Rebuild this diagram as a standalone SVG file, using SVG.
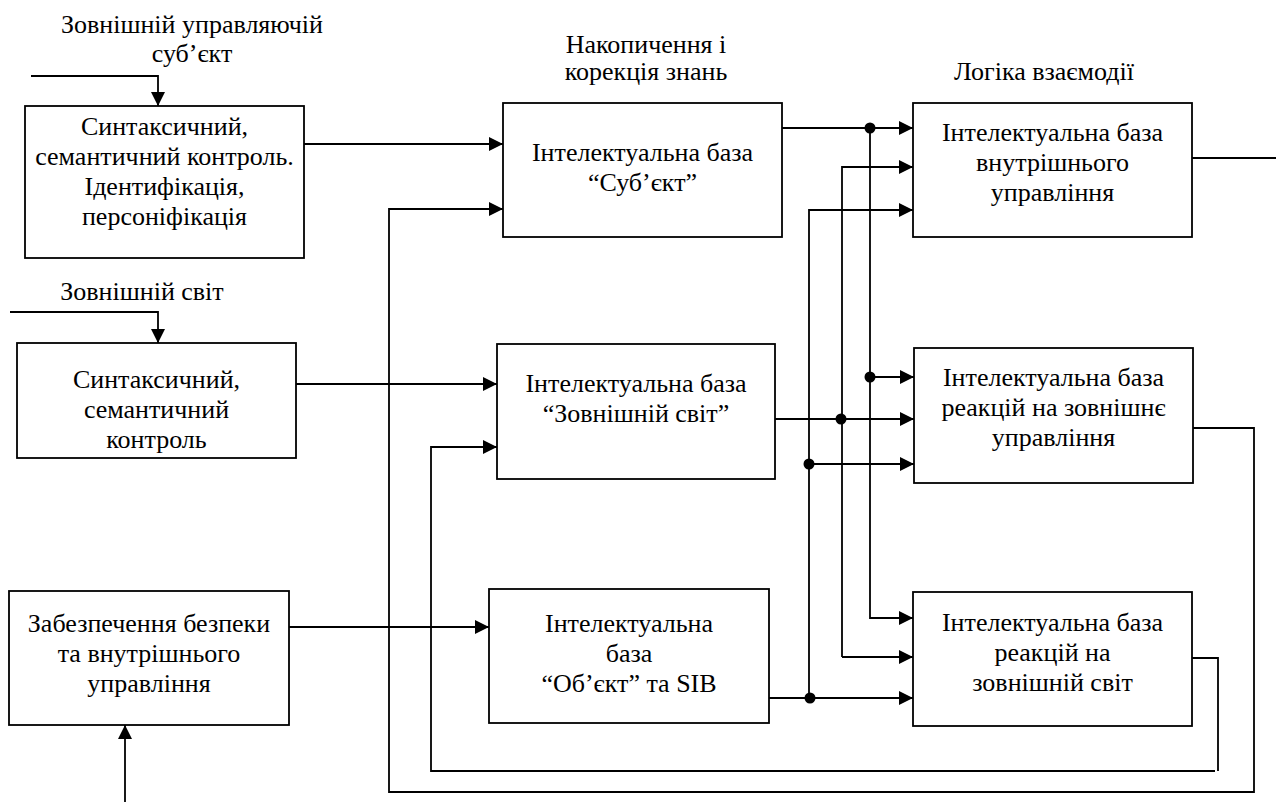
<svg xmlns="http://www.w3.org/2000/svg" width="1281" height="803" viewBox="0 0 1281 803">
<style>
.box{fill:#fff;stroke:#000;stroke-width:1.8}
.ln{fill:none;stroke:#000;stroke-width:1.8}
.ar{marker-end:url(#arr)}
</style>
<defs>
<marker id="arr" markerUnits="userSpaceOnUse" markerWidth="14" markerHeight="14" refX="14" refY="7" orient="auto">
<path d="M0,0 L14,7 L0,14 z" fill="#000"/>
</marker>
</defs>
<rect width="1281" height="803" fill="#fff"/>
<g font-family="Liberation Serif, DejaVu Serif, serif" font-size="26" text-anchor="middle" fill="#000">
<g id="labels">
<text x="192" y="33">Зовнішній управляючій</text>
<text x="192" y="62">суб’єкт</text>
<text x="142" y="300">Зовнішній світ</text>
<text x="646" y="53">Накопичення і</text>
<text x="646" y="80">корекція знань</text>
<text x="1044" y="80">Логіка взаємодії</text>
</g>
</g>
<g id="connectors">
<polyline class="ln ar" points="31,76 158,76 158,106"/>
<polyline class="ln ar" points="304,144 503,144"/>
<polyline class="ln ar" points="1193,428 1254,428 1254,792 389,792 389,209 503,209"/>
<polyline class="ln ar" points="10,312 158,312 158,343"/>
<polyline class="ln ar" points="296,384 497,384"/>
<polyline class="ln" points="1192,658 1218,658 1218,771"/>
<polyline class="ln ar" points="1215,771 431,771 431,447 497,447"/>
<polyline class="ln ar" points="125,802 125,725"/>
<polyline class="ln ar" points="289,627 489,627"/>
<polyline class="ln ar" points="782,128 913,128"/>
<polyline class="ln ar" points="870,128 870,618 913,618"/>
<polyline class="ln ar" points="870,377 914,377"/>
<polyline class="ln ar" points="775,419 914,419"/>
<polyline class="ln ar" points="842,657 842,167 913,167"/>
<polyline class="ln ar" points="842,657 913,657"/>
<polyline class="ln ar" points="769,698 913,698"/>
<polyline class="ln ar" points="809,698 809,210 913,210"/>
<polyline class="ln ar" points="809,464 914,464"/>
<polyline class="ln" points="1192,158 1276,158"/>
<circle cx="870" cy="128" r="5.5"/>
<circle cx="870" cy="377" r="5.5"/>
<circle cx="841" cy="419" r="5.5"/>
<circle cx="809" cy="464" r="5.5"/>
<circle cx="810" cy="698" r="5.5"/>
</g>
<g font-family="Liberation Serif, DejaVu Serif, serif" font-size="26" text-anchor="middle" fill="#000">
<g id="boxA">
<rect class="box" x="25" y="106" width="279" height="152"/>
<text x="164.5" y="135">Синтаксичний,</text>
<text x="164.5" y="165">семантичний контроль.</text>
<text x="164.5" y="195">Ідентифікація,</text>
<text x="164.5" y="225">персоніфікація</text>
</g>
<g id="boxB">
<rect class="box" x="17" y="343" width="279" height="115"/>
<text x="156.5" y="388">Синтаксичний,</text>
<text x="156.5" y="418">семантичний</text>
<text x="156.5" y="448">контроль</text>
</g>
<g id="boxC">
<rect class="box" x="9" y="591" width="280" height="134"/>
<text x="149" y="632">Забезпечення безпеки</text>
<text x="149" y="662">та внутрішнього</text>
<text x="149" y="692">управління</text>
</g>
<g id="kbSubject">
<rect class="box" x="503" y="103" width="279" height="134"/>
<text x="642.5" y="161">Інтелектуальна база</text>
<text x="642.5" y="191">“Суб’єкт”</text>
</g>
<g id="kbWorld">
<rect class="box" x="497" y="344" width="278" height="135"/>
<text x="636" y="392">Інтелектуальна база</text>
<text x="636" y="422">“Зовнішній світ”</text>
</g>
<g id="kbObject">
<rect class="box" x="489" y="589" width="280" height="134"/>
<text x="629" y="632">Інтелектуальна</text>
<text x="629" y="662">база</text>
<text x="629" y="692">“Об’єкт” та SIB</text>
</g>
<g id="kbInternal">
<rect class="box" x="913" y="103" width="279" height="134"/>
<text x="1052.5" y="141">Інтелектуальна база</text>
<text x="1052.5" y="171">внутрішнього</text>
<text x="1052.5" y="201">управління</text>
</g>
<g id="kbReactCtrl">
<rect class="box" x="914" y="348" width="279" height="135"/>
<text x="1053.5" y="386">Інтелектуальна база</text>
<text x="1053.5" y="416">реакцій на зовнішнє</text>
<text x="1053.5" y="446">управління</text>
</g>
<g id="kbReactWorld">
<rect class="box" x="913" y="592" width="279" height="134"/>
<text x="1052.5" y="631">Інтелектуальна база</text>
<text x="1052.5" y="661">реакцій на</text>
<text x="1052.5" y="691">зовнішній світ</text>
</g>
</g>
</svg>
